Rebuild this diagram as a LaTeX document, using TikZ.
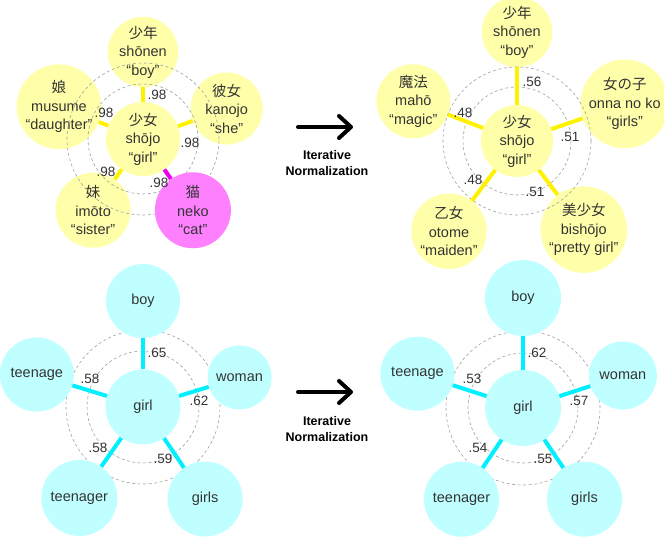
\documentclass[tikz,border=0pt]{standalone}
\usepackage{fontspec}
\setmainfont{Liberation Sans}
\newfontfamily\jp{Noto Sans CJK JP}
\usetikzlibrary{arrows.meta}

\definecolor{paleyellow}{HTML}{FFFFAA}
\definecolor{palecyan}{HTML}{C0FFFF}
\definecolor{palemagenta}{HTML}{FF80FF}
\definecolor{edgeyellow}{HTML}{FFF200}
\definecolor{edgecyan}{HTML}{00F0FF}
\definecolor{edgemagenta}{HTML}{F000F0}
\definecolor{ringgray}{HTML}{A0A0A0}
\definecolor{textgray}{HTML}{333333}

\begin{document}
\begin{tikzpicture}[x=1pt,y=1pt]
	\tikzset{
		word/.style={circle,inner sep=0pt,minimum size=74pt,align=center,text=textgray,font=\fontsize{14.5}{18.5}\selectfont},
		yword/.style={word,fill=paleyellow},
		cword/.style={word,fill=palecyan},
		mword/.style={word,fill=palemagenta},
		ring/.style={draw=ringgray,line width=0.6pt,dash pattern=on 3pt off 2.5pt},
		yedge/.style={draw=edgeyellow,line width=4pt},
		cedge/.style={draw=edgecyan,line width=4pt},
		medge/.style={draw=edgemagenta,line width=4pt},
		weight/.style={inner sep=0pt,text=textgray,font=\fontsize{13.5}{13.5}\selectfont},
		bigarrow/.style={line width=4pt,line cap=round,-{Straight Barb[length=12pt,width=22pt,line cap=round,line join=round]}},
		caption/.style={align=center,font=\bfseries\fontsize{12.5}{16}\selectfont}
	}
	\useasboundingbox (0,0) rectangle (664,537);

	\begin{scope}[shift={(143,398)}]
		\node[yword] (tlc) at (0,0) {{\jp 少女}\\shōjo\\“girl”};
		\node[yword,minimum size=60pt] (tla) at (90:87) {{\jp 少年}\\shōnen\\“boy”};
		\node[yword,minimum size=72pt] (tlb) at (20:89) {{\jp 彼女}\\kanojo\\“she”};
		\node[yword] (tle) at (159:90) {{\jp 娘}\\musume\\“daughter”};
		\node[yword,minimum size=75pt] (tld) at (235:87) {{\jp 妹}\\imōto\\“sister”};
		\draw[ring] (tlc.center) circle[radius=55pt];
		\draw[ring] (tlc.center) circle[radius=76pt];
		\node[mword,minimum size=76pt] (tln) at (305:87) {{\jp 猫}\\neko\\“cat”};
		\path[yedge]
			(tlc) edge (tla)
			(tlc) edge (tlb)
			(tlc) edge (tld)
			(tlc) edge (tle);
		\path[medge]
			(tlc) edge (tln);
		\node[weight] (tlwa) at (14,44) {.98};
		\node[weight] (tlwb) at (47,-4) {.98};
		\node[weight] (tlwn) at (16,-44) {.98};
		\node[weight] (tlwd) at (-37,-33) {.98};
		\node[weight] (tlwe) at (-39,26) {.98};
	\end{scope}

	\begin{scope}[shift={(517,396)}]
		\node[yword,minimum size=72pt] (trc) at (0,0) {{\jp 少女}\\shōjo\\“girl”};
		\node[yword,minimum size=66pt] (tra) at (90:109) {{\jp 少年}\\shōnen\\“boy”};
		\node[yword] (trb) at (19:114) {{\jp 女の子}\\onna no ko\\“girls”};
		\node[yword,minimum size=75pt] (trn) at (307:111) {{\jp 美少女}\\bishōjo\\“pretty girl”};
		\node[yword] (trd) at (233:113) {{\jp 乙女}\\otome\\“maiden”};
		\node[yword] (tre) at (159:111) {{\jp 魔法}\\mahō\\“magic”};
		\draw[ring] (trc.center) circle[radius=54pt];
		\draw[ring] (trc.center) circle[radius=74pt];
		\path[yedge]
			(trc) edge (tra)
			(trc) edge (trb)
			(trc) edge (trn)
			(trc) edge (trd)
			(trc) edge (tre);
		\node[weight] (trwa) at (15,59) {.56};
		\node[weight] (trwb) at (53,4) {.51};
		\node[weight] (trwn) at (18,-51) {.51};
		\node[weight] (trwd) at (-44,-39) {.48};
		\node[weight] (trwe) at (-54,28) {.48};
	\end{scope}

	\begin{scope}[shift={(143,130)}]
		\draw[ring] (0,0) circle[radius=56pt];
		\draw[ring] (0,0) circle[radius=77pt];
		\node[cword,minimum size=75pt] (blc) at (0,0) {girl};
		\node[cword] (bla) at (90:106) {boy};
		\node[cword,minimum size=64pt] (blb) at (17:101) {woman};
		\node[cword,minimum size=75pt] (bln) at (304:111) {girls};
		\node[cword,minimum size=76pt] (bld) at (235:111) {teenager};
		\node[cword] (ble) at (163:111) {teenage};
		\path[cedge]
			(blc) edge (bla)
			(blc) edge (blb)
			(blc) edge (bln)
			(blc) edge (bld)
			(blc) edge (ble);
		\node[weight] (blwa) at (14,54) {.65};
		\node[weight] (blwb) at (56,6) {.62};
		\node[weight] (blwn) at (20,-52) {.59};
		\node[weight] (blwd) at (-45,-41) {.58};
		\node[weight] (blwe) at (-53,28) {.58};
	\end{scope}

	\begin{scope}[shift={(523,129)}]
		\draw[ring] (0,0) circle[radius=55pt];
		\draw[ring] (0,0) circle[radius=77pt];
		\node[cword,minimum size=76pt] (brc) at (0,0) {girl};
		\node[cword,minimum size=76pt] (bra) at (90:110) {boy};
		\node[cword,minimum size=68pt] (brb) at (18:105) {woman};
		\node[cword,minimum size=75pt] (brn) at (304:110) {girls};
		\node[cword,minimum size=75pt] (brd) at (236:110) {teenager};
		\node[cword] (bre) at (162:111) {teenage};
		\path[cedge]
			(brc) edge (bra)
			(brc) edge (brb)
			(brc) edge (brn)
			(brc) edge (brd)
			(brc) edge (bre);
		\node[weight] (brwa) at (14,55) {.62};
		\node[weight] (brwb) at (56,7) {.57};
		\node[weight] (brwn) at (20,-51) {.55};
		\node[weight] (brwd) at (-45,-40) {.54};
		\node[weight] (brwe) at (-51,29) {.53};
	\end{scope}

	\coordinate (tfrom) at (298,410);
	\coordinate (tto) at (353,410);
	\draw[bigarrow] (tfrom) -- (tto);
	\node[caption] (tcap) at (327,373.5) {Iterative\\Normalization};
	\coordinate (bfrom) at (298,145);
	\coordinate (bto) at (353,145);
	\draw[bigarrow] (bfrom) -- (bto);
	\node[caption] (bcap) at (327,107.5) {Iterative\\Normalization};
\end{tikzpicture}
\end{document}
